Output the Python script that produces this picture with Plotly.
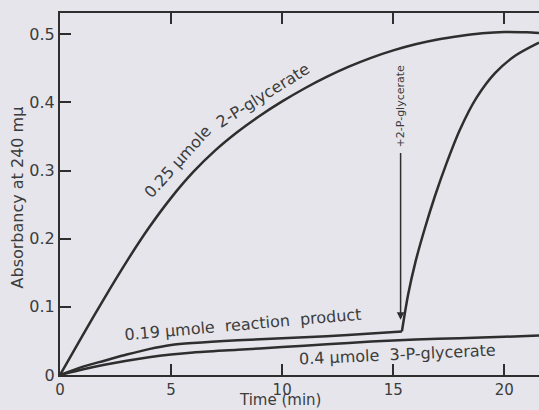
import plotly.graph_objects as go

# ---- data ----
t_2pg = [0, 1, 2, 3, 4, 5, 6, 7, 8, 9, 10, 11, 12, 13, 14, 15, 16, 17, 18, 19, 20, 21, 21.56]
a_2pg = [0, 0.057, 0.113, 0.1665, 0.216, 0.260, 0.298, 0.330, 0.357, 0.3805, 0.4015, 0.4205,
         0.4375, 0.4525, 0.4655, 0.4765, 0.4855, 0.4925, 0.4975, 0.5015, 0.5035, 0.503, 0.502]

t_prod_before = [0, 1, 2, 3, 4, 5, 6, 8, 10, 12, 14, 15.39]
a_prod_before = [0, 0.012, 0.021, 0.030, 0.038, 0.044, 0.047, 0.051, 0.054, 0.057, 0.061, 0.064]

t_prod_after = [15.39, 15.67, 16.0, 16.42, 16.87, 17.4, 18.0, 18.75, 19.58, 20.5, 21.56]
a_prod_after = [0.064, 0.118, 0.166, 0.215, 0.262, 0.311, 0.360, 0.407, 0.443, 0.469, 0.488]

t_3pg = [0, 1, 2, 3, 4, 5, 6, 8, 10, 12, 14, 16, 18, 20, 21.56]
a_3pg = [0, 0.008, 0.015, 0.021, 0.026, 0.030, 0.033, 0.037, 0.041, 0.045, 0.049, 0.052, 0.054, 0.056, 0.058]

x_ticks = [0, 5, 10, 15, 20]
y_ticks = [0, 0.1, 0.2, 0.3, 0.4, 0.5]
y_tick_text = ["0", "0.1", "0.2", "0.3", "0.4", "0.5"]

addition_time = 15.33
arrow_tip, arrow_tail = 0.081, 0.328

# ---- styling ----
BG = "#e5e5eb"
INK = "#2e2e2e"
TXT = "#3c3c3c"
FONT = "DejaVu Sans"
X_RANGE = [0, 21.56]
Y_RANGE = [0, 0.5313]

fig = go.Figure()
line = dict(color=INK, width=2.5, shape="spline", smoothing=0.8)
for tx, ay in [(t_2pg, a_2pg), (t_prod_before, a_prod_before),
               (t_prod_after, a_prod_after), (t_3pg, a_3pg)]:
    fig.add_trace(go.Scatter(x=tx, y=ay, mode="lines", line=line,
                             showlegend=False, hoverinfo="skip"))

fig.update_layout(
    width=539, height=410,
    margin=dict(l=60, r=0, t=13, b=35, autoexpand=False),
    paper_bgcolor=BG, plot_bgcolor=BG,
    font=dict(family=FONT, color=TXT, size=15),
    showlegend=False,
    xaxis=dict(range=X_RANGE, tickvals=x_ticks, ticks="inside", ticklen=11,
               tickwidth=1.5, tickcolor=INK, showline=True, linecolor=INK,
               linewidth=2, mirror="ticks", showgrid=False, zeroline=False,
               tickfont=dict(size=15), automargin=False),
    yaxis=dict(range=Y_RANGE, tickvals=y_ticks, ticktext=y_tick_text,
               ticks="inside", ticklen=11, tickwidth=1.5, tickcolor=INK,
               showline=True, linecolor=INK, linewidth=2, mirror=False,
               showgrid=False, zeroline=False, tickfont=dict(size=16),
               automargin=False),
    yaxis2=dict(range=Y_RANGE, overlaying="y", side="right", tickvals=y_ticks[1:],
                ticks="inside", ticklen=10, tickwidth=1.5, tickcolor=INK,
                showticklabels=False, showline=False, showgrid=False, zeroline=False,
                automargin=False),
)

ann = []
def label(text, x, y, angle, size=16):
    ann.append(dict(text=text, x=x, y=y, xref="x", yref="y", showarrow=False,
                    xanchor="center", yanchor="middle",
                    textangle=angle, font=dict(size=size, color=TXT, family=FONT)))

label("0.25 µmole", 5.3, 0.314, -48)
label("2-P-glycerate", 9.13, 0.410, -32)
label("0.19 µmole  reaction  product", 8.23, 0.0737, -5)
label("0.4 µmole  3-P-glycerate", 15.2, 0.0296, -2.6)
label("+2-P-glycerate", addition_time, 0.3936, -90, size=11)

ann.append(dict(text="", x=addition_time, y=arrow_tip, ax=addition_time, ay=arrow_tail,
                xref="x", yref="y", axref="x", ayref="y", showarrow=True,
                arrowhead=2, arrowsize=1, arrowwidth=1.5, arrowcolor=INK, standoff=0))

ann.append(dict(text="Absorbancy at 240 mµ", x=-0.088, y=0.49, xref="paper", yref="paper",
                xanchor="center", yanchor="middle",
                showarrow=False, textangle=-90, font=dict(size=16, color=TXT, family=FONT)))
ann.append(dict(text="Time (min)", x=0.4585, y=-0.070, xref="paper", yref="paper",
                xanchor="center", yanchor="middle", borderpad=0,
                showarrow=False, font=dict(size=15, color=TXT, family=FONT)))
fig.update_layout(annotations=ann)

fig.write_html("out.html", config={"displayModeBar": False},
               post_script="document.body.style.margin='0';document.body.style.overflow='hidden';")
